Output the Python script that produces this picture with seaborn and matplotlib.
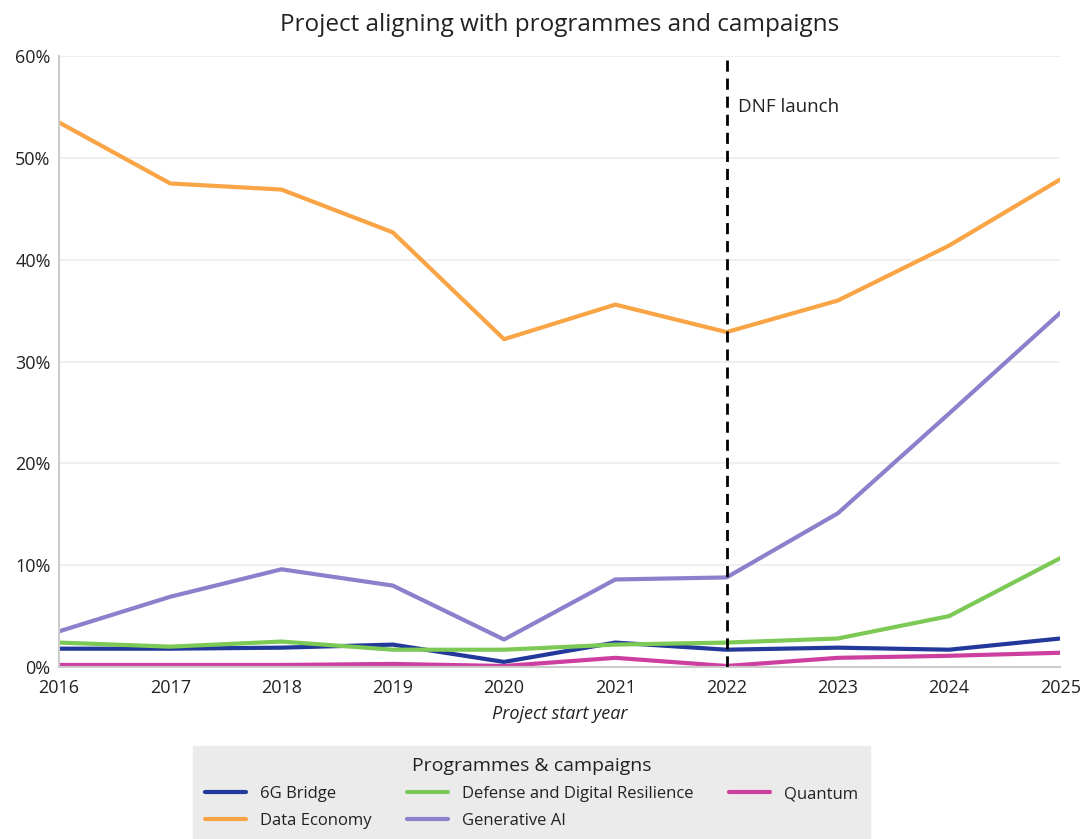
import numpy as np
import pandas as pd
import matplotlib
matplotlib.use("Agg")
import matplotlib.pyplot as plt
import seaborn as sns
from matplotlib.ticker import PercentFormatter

years = [2016, 2017, 2018, 2019, 2020, 2021, 2022, 2023, 2024, 2025]
bridge_6g = [1.8, 1.8, 1.9, 2.2, 0.5, 2.4, 1.7, 1.9, 1.7, 2.8]
data_economy = [53.5, 47.5, 46.9, 42.7, 32.2, 35.6, 32.9, 36.0, 41.4, 47.9]
defense_resilience = [2.4, 2.0, 2.5, 1.7, 1.7, 2.2, 2.4, 2.8, 5.0, 10.7]
generative_ai = [3.5, 6.9, 9.6, 8.0, 2.7, 8.6, 8.8, 15.1, 24.9, 34.8]
quantum = [0.2, 0.2, 0.2, 0.3, 0.1, 0.9, 0.1, 0.9, 1.1, 1.4]

series = {
    "6G Bridge": bridge_6g,
    "Data Economy": data_economy,
    "Defense and Digital Resilience": defense_resilience,
    "Generative AI": generative_ai,
    "Quantum": quantum,
}
colors = {
    "6G Bridge": "#22389a",
    "Data Economy": "#f9a445",
    "Defense and Digital Resilience": "#7cc956",
    "Generative AI": "#8c80cc",
    "Quantum": "#cc3f9f",
}

df = pd.DataFrame(
    [(y, name, v) for name, vals in series.items() for y, v in zip(years, vals)],
    columns=["year", "programme", "share"],
)

sns.set_theme(style="white")
plt.rcParams["font.family"] = ["Open Sans", "DejaVu Sans"]
text_color = "#222222"

fig = plt.figure(figsize=(10.82, 8.39), dpi=100)
ax = fig.add_axes([0.0545, 0.205, 0.9255, 0.728])

sns.lineplot(data=df, x="year", y="share", hue="programme", palette=colors,
             linewidth=3, ax=ax, legend=True)

ax.set_xlim(2016, 2025)
ax.set_ylim(0, 60)
ax.set_xticks(years)
ax.set_xticklabels([str(y) for y in years], fontsize=13, color=text_color)
ax.set_yticks(np.arange(0, 61, 10))
ax.yaxis.set_major_formatter(PercentFormatter(decimals=0))
for lbl in ax.get_yticklabels():
    lbl.set_fontsize(13)
    lbl.set_color(text_color)
ax.tick_params(axis="both", length=0)
ax.tick_params(axis="x", pad=8.5)
ax.tick_params(axis="y", pad=6)
ax.grid(axis="y", color="#ececec", linewidth=1.2)
ax.set_axisbelow(True)
for side in ["top", "right"]:
    ax.spines[side].set_visible(False)
for side in ["left", "bottom"]:
    ax.spines[side].set_color("#cccccc")
    ax.spines[side].set_linewidth(1.5)

ax.set_xlabel("Project start year", fontsize=13, style="italic", color=text_color, labelpad=6)
ax.set_ylabel("")

# DNF launch marker
ax.axvline(2022, color="black", linestyle=(0, (4, 2.5)), linewidth=2, zorder=5)
ax.text(2022.1, 55, "DNF launch", fontsize=13.5, color=text_color, va="center", ha="left")

fig.suptitle("Project aligning with programmes and campaigns", fontsize=17.5,
             color=text_color, y=0.985, x=0.517)

handles, labels = ax.get_legend_handles_labels()
ax.get_legend().remove()
leg = fig.legend(handles, labels, title="Programmes & campaigns", ncol=3,
                 loc="lower center", bbox_to_anchor=(0.4912, -0.012),
                 fontsize=12, title_fontsize=14, frameon=True,
                 facecolor="#ebebeb", edgecolor="#ebebeb", fancybox=False,
                 handlelength=2.45, columnspacing=2.15, borderpad=0.7,
                 labelspacing=0.65, handletextpad=0.84)
leg.get_frame().set_alpha(1)
for t in leg.get_texts():
    t.set_color(text_color)
leg.get_title().set_color(text_color)
for line in leg.get_lines():
    line.set_linewidth(3)

fig.savefig("out.png", dpi=100)
